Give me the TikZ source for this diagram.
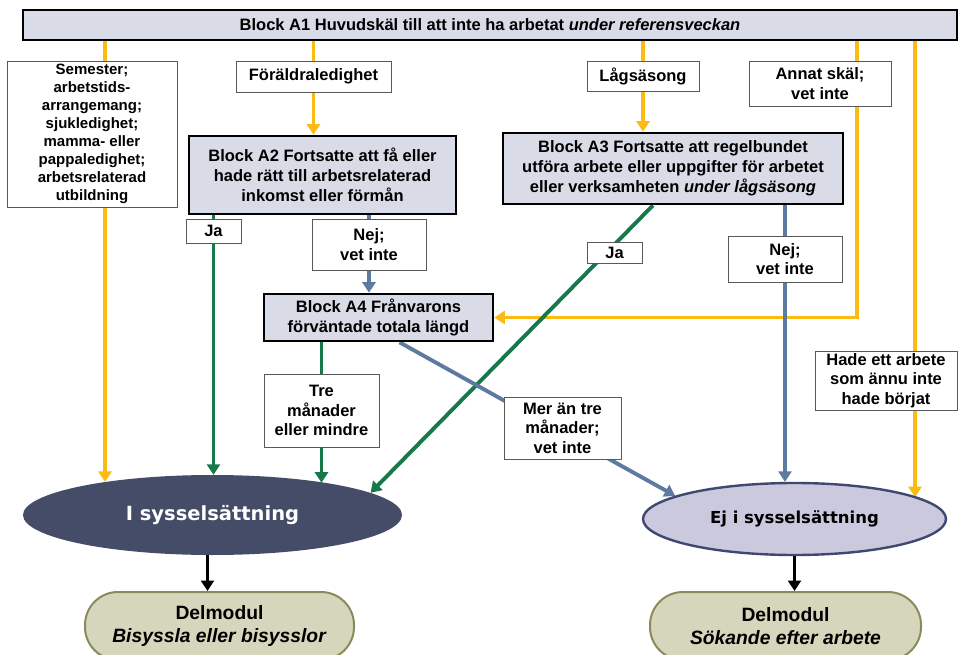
\documentclass[tikz,border=0pt]{standalone}
\usepackage{fontspec}
\setmainfont{Liberation Sans}
\newfontfamily\verdanafont{DejaVu Sans}
\usepackage{tikz}
\usetikzlibrary{arrows.meta,shapes.geometric,positioning}
\definecolor{flowyellow}{HTML}{FDBA12}
\definecolor{flowgreen}{HTML}{17794A}
\definecolor{flowblue}{HTML}{5D7BA0}
\definecolor{blockfill}{HTML}{D9DBE7}
\definecolor{empdark}{HTML}{454C68}
\definecolor{emplight}{HTML}{CBC9DE}
\definecolor{empedge}{HTML}{3E4870}
\definecolor{delfill}{HTML}{D6D6BD}
\definecolor{deledge}{HTML}{8A8B5C}
\pgfdeclarelayer{background}
\pgfsetlayers{background,main}

\begin{document}
\begin{tikzpicture}[x=1pt, y=-1pt,
  lbl/.style={draw=black!65, fill=white, line width=0.8pt, align=center,
    inner sep=1pt, font=\fontsize{16.5}{19.5}\selectfont\bfseries},
  block/.style={draw=black, line width=2.6pt, fill=blockfill, align=center,
    inner sep=1pt, font=\fontsize{16.5}{20}\selectfont\bfseries},
  outcome/.style={ellipse, inner sep=0pt, font=\verdanafont\bfseries},
  delmod/.style={draw=deledge, line width=2pt, fill=delfill, rounded corners=33pt,
    align=center, inner sep=1pt, font=\fontsize{19.3}{23}\selectfont\bfseries},
  tip/.style={-{Triangle[length=10.5pt,width=13pt]}},
  yline/.style={flowyellow, line width=3.9pt, tip},
  gline/.style={flowgreen, line width=3.9pt, tip},
  bline/.style={flowblue, line width=3.9pt, tip}]
  \useasboundingbox (0,0) rectangle (959,655);
  \clip (0,0) rectangle (959,655);
  % Blocks
  \node[block, minimum width=934pt, minimum height=30pt] (a1) at (490,25)
    {Block A1 Huvudskäl till att inte ha arbetat \textit{under referensveckan}};
  \node[block, minimum width=267pt, minimum height=78pt] (a2) at (322.5,175)
    {Block A2 Fortsatte att få eller\\hade rätt till arbetsrelaterad\\inkomst eller förmån};
  \node[block, minimum width=340pt, minimum height=71pt] (a3) at (673,168.5)
    {Block A3 Fortsatte att regelbundet\\utföra arbete eller uppgifter för arbetet\\eller verksamheten \textit{under lågsäsong}};
  \node[block, minimum width=229pt, minimum height=47pt] (a4) at (378.5,317.5)
    {Block A4 Frånvarons\\förväntade totala längd};
  % Answer labels
  \node[lbl, minimum width=170pt, minimum height=146pt, font=\fontsize{15}{18}\selectfont\bfseries] (sem) at (92,134)
    {Semester;\\arbetstids-\\arrangemang;\\sjukledighet;\\mamma- eller\\pappaledighet;\\arbetsrelaterad\\utbildning};
  \node[lbl, minimum width=155pt, minimum height=31pt] (fora) at (313.5,76.5) {Föräldraledighet};
  \node[lbl, minimum width=112pt, minimum height=30pt] (lag) at (643,76) {Lågsäsong};
  \node[lbl, minimum width=142pt, minimum height=45pt] (ann) at (820,83.5) {Annat skäl;\\vet inte};
  \node[lbl, minimum width=55pt, minimum height=24pt] (ja2) at (213.5,231) {Ja};
  \node[lbl, minimum width=114pt, minimum height=51pt] (nej2) at (369,244.5) {Nej;\\vet inte};
  \node[lbl, minimum width=55pt, minimum height=21pt] (ja3) at (614.5,252.5) {Ja};
  \node[lbl, minimum width=114pt, minimum height=46pt] (nej3) at (785,259) {Nej;\\vet inte};
  \node[lbl, minimum width=115pt, minimum height=73pt] (tre) at (321.5,410.5) {Tre\\månader\\eller mindre};
  \node[lbl, minimum width=117pt, minimum height=62pt] (mer) at (562.5,428) {Mer än tre\\månader;\\vet inte};
  \node[lbl, minimum width=142pt, minimum height=59pt] (hade) at (886,380.5) {Hade ett arbete\\som ännu inte\\hade börjat};
  % Outcomes
  \node[outcome, fill=empdark, text=white, minimum width=379pt, minimum height=80pt,
    font=\verdanafont\bfseries\fontsize{19.5}{22}\selectfont] (isyss) at (212.5,515) {I sysselsättning};
  \node[outcome, draw=empedge, line width=2.4pt, fill=emplight, minimum width=303pt, minimum height=72pt,
    font=\verdanafont\bfseries\fontsize{16.5}{20}\selectfont] (ej) at (794.5,519) {Ej i sysselsättning};
  \node[delmod, minimum width=269pt, minimum height=68pt] (del1) at (219.5,626)
    {Delmodul\\\textit{Bisyssla eller bisysslor}};
  \node[delmod, minimum width=271pt, minimum height=68pt] (del2) at (785.5,626)
    {Delmodul\\\textit{Sökande efter arbete}};
  % Connectors
  \coordinate (xsem) at (105,0);
  \coordinate (xann) at (857,0);
  \coordinate (xhade) at (915,0);
  \begin{pgfonlayer}{background}
    \draw[yline] (a1.south -| xsem) -- (xsem |- isyss.163);
    \draw[yline] (a1.south -| fora) -- (fora |- a2.north);
    \draw[yline] (a1.south -| lag) -- (lag |- a3.north);
    \draw[yline] (a1.south -| xann) -- (xann |- a4.east) -- (a4.east);
    \draw[yline] (a1.south -| xhade) -- (xhade |- ej.10);
    \draw[gline] (a2.south -| ja2) -- (ja2 |- isyss.north);
    \draw[bline] (a2.south -| nej2) -- (nej2 |- a4.north);
    \draw[gline] ([xshift=-20pt]a3.south) -- (isyss.8);
    \draw[bline] (a3.south -| nej3) -- (nej3 |- ej.north);
    \draw[gline] (a4.south -| tre) -- (tre |- isyss.16);
    \draw[bline] ([xshift=21pt]a4.south) -- (ej.169);
  \end{pgfonlayer}
  \draw[tip, line width=3.4pt] ([xshift=-5pt]isyss.south) -- ([xshift=-5pt]isyss.south |- del1.north);
  \draw[tip, line width=3.4pt] (ej.south) -- (ej.south |- del2.north);
\end{tikzpicture}
\end{document}
